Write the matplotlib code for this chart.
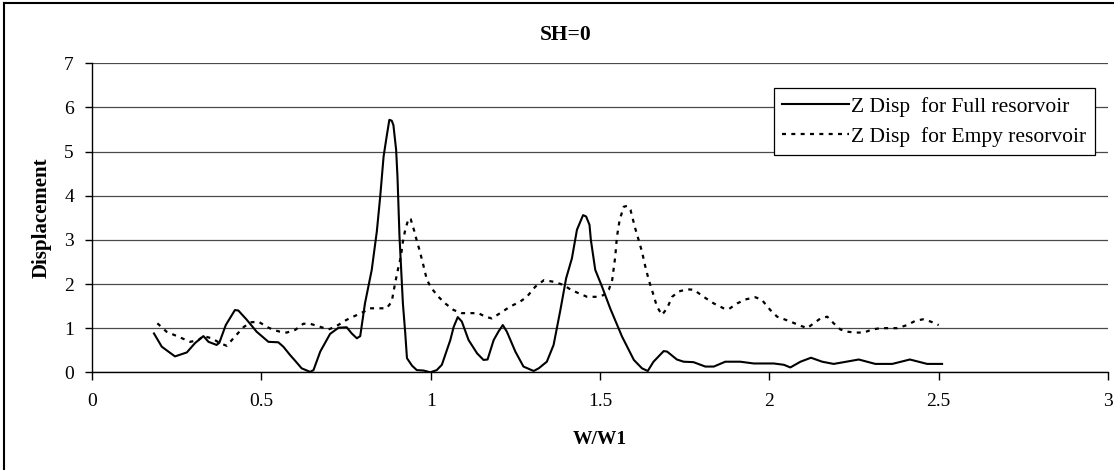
import matplotlib
matplotlib.use("Agg")
import matplotlib.pyplot as plt
from matplotlib.lines import Line2D

# Z Disp for Full resorvoir
full_x = [0.183, 0.206, 0.245, 0.28, 0.304, 0.329, 0.344, 0.368, 0.376, 0.395,
          0.422, 0.432, 0.457, 0.486, 0.521, 0.55, 0.565, 0.585, 0.6, 0.619,
          0.644, 0.654, 0.674, 0.703, 0.728, 0.752, 0.767, 0.782, 0.792, 0.806,
          0.826, 0.841, 0.851, 0.861, 0.87, 0.878, 0.885, 0.89, 0.898, 0.902,
          0.908, 0.918, 0.925, 0.93, 0.945, 0.959, 0.979, 0.999, 1.018, 1.033,
          1.058, 1.068, 1.08, 1.092, 1.112, 1.137, 1.156, 1.168, 1.186, 1.2,
          1.213, 1.225, 1.25, 1.274, 1.304, 1.319, 1.343, 1.363, 1.383, 1.4,
          1.417, 1.432, 1.45, 1.459, 1.469, 1.473, 1.486, 1.506, 1.53, 1.565,
          1.6, 1.624, 1.641, 1.658, 1.688, 1.698, 1.727, 1.747, 1.776, 1.811,
          1.836, 1.87, 1.914, 1.954, 2.013, 2.043, 2.062, 2.092, 2.123, 2.156,
          2.19, 2.22, 2.264, 2.313, 2.363, 2.415, 2.466, 2.51]
full_y = [0.88, 0.58, 0.36, 0.45, 0.66, 0.82, 0.69, 0.62, 0.67, 1.07,
          1.41, 1.40, 1.19, 0.92, 0.69, 0.68, 0.58, 0.39, 0.26, 0.09,
          0.01, 0.05, 0.47, 0.87, 1.01, 1.02, 0.88, 0.77, 0.82, 1.56,
          2.32, 3.19, 3.98, 4.89, 5.34, 5.72, 5.70, 5.60, 5.04, 4.43,
          3.07, 1.56, 0.88, 0.32, 0.15, 0.05, 0.04, 0.0, 0.05, 0.17,
          0.73, 1.03, 1.25, 1.15, 0.73, 0.43, 0.28, 0.29, 0.73, 0.92,
          1.07, 0.92, 0.47, 0.13, 0.03, 0.09, 0.24, 0.62, 1.41, 2.13,
          2.58, 3.23, 3.56, 3.53, 3.34, 3.0, 2.32, 1.94, 1.45, 0.81,
          0.28, 0.09, 0.03, 0.24, 0.48, 0.47, 0.29, 0.24, 0.23, 0.13,
          0.13, 0.24, 0.24, 0.20, 0.20, 0.17, 0.11, 0.24, 0.33, 0.24,
          0.19, 0.23, 0.29, 0.19, 0.19, 0.29, 0.19, 0.19]

# Z Disp for Empy resorvoir
empty_x = [0.193, 0.22, 0.26, 0.29, 0.314, 0.329, 0.354, 0.378, 0.398, 0.422,
           0.447, 0.467, 0.491, 0.516, 0.536, 0.555, 0.575, 0.6, 0.624, 0.644,
           0.674, 0.698, 0.718, 0.752, 0.777, 0.802, 0.821, 0.846, 0.87, 0.885,
           0.895, 0.905, 0.912, 0.918, 0.925, 0.935, 0.941, 0.952, 0.959, 0.967,
           0.977, 0.989, 1.003, 1.023, 1.043, 1.068, 1.092, 1.117, 1.141, 1.161,
           1.181, 1.205, 1.235, 1.264, 1.284, 1.309, 1.335, 1.363, 1.392, 1.412,
           1.437, 1.462, 1.491, 1.511, 1.526, 1.536, 1.545, 1.55, 1.558, 1.57,
           1.58, 1.59, 1.604, 1.614, 1.624, 1.634, 1.644, 1.658, 1.668, 1.683,
           1.698, 1.713, 1.732, 1.757, 1.777, 1.806, 1.836, 1.865, 1.88, 1.905,
           1.929, 1.959, 1.978, 2.003, 2.023, 2.062, 2.087, 2.112, 2.131, 2.151,
           2.171, 2.19, 2.21, 2.23, 2.255, 2.279, 2.304, 2.328, 2.353, 2.378,
           2.407, 2.432, 2.454, 2.476, 2.5]
empty_y = [1.11, 0.92, 0.79, 0.69, 0.73, 0.82, 0.77, 0.66, 0.60, 0.81,
           1.02, 1.13, 1.15, 1.03, 0.96, 0.92, 0.90, 0.96, 1.10, 1.10,
           1.03, 0.97, 1.03, 1.19, 1.28, 1.37, 1.45, 1.45, 1.45, 1.60,
           2.02, 2.39, 2.62, 2.96, 3.23, 3.49, 3.47, 3.19, 2.98, 2.77,
           2.47, 2.09, 1.90, 1.71, 1.56, 1.41, 1.34, 1.34, 1.34, 1.26,
           1.22, 1.34, 1.49, 1.60, 1.71, 1.94, 2.09, 2.05, 1.98, 1.88,
           1.79, 1.71, 1.71, 1.75, 1.87, 2.09, 2.62, 3.07, 3.45, 3.75,
           3.77, 3.68, 3.26, 3.0, 2.73, 2.39, 2.09, 1.75, 1.49, 1.30,
           1.45, 1.71, 1.83, 1.88, 1.87, 1.71, 1.56, 1.45, 1.43, 1.56,
           1.65, 1.70, 1.64, 1.41, 1.26, 1.15, 1.07, 1.0, 1.11, 1.22,
           1.26, 1.11, 0.97, 0.92, 0.90, 0.90, 0.97, 1.0, 1.0, 1.0,
           1.07, 1.17, 1.20, 1.15, 1.07]

x_ticks = [0, 0.5, 1, 1.5, 2, 2.5, 3]
x_tick_labels = ["0", "0.5", "1", "1.5", "2", "2.5", "3"]
y_ticks = [0, 1, 2, 3, 4, 5, 6, 7]

plt.rcParams["font.family"] = ["Liberation Serif", "DejaVu Serif"]

W, H = 1114, 470
fig = plt.figure(figsize=(W / 100, H / 100), dpi=100)
# plot area: x 92..1108 px, y 63..372 px (from top)
ax = fig.add_axes([92 / W, (H - 372.3) / H, 1016 / W, 309 / H])

ax.plot(full_x, full_y, color="black", lw=1.5, solid_joinstyle="round",
        label="Z Disp  for Full resorvoir")
ax.plot(empty_x, empty_y, color="black", lw=1.6, ls=(0, (1.8, 2.4)),
        label="Z Disp  for Empy resorvoir")

ax.set_xlim(0, 3)
ax.set_ylim(0, 7)
ax.set_xticks(x_ticks)
ax.set_xticklabels(x_tick_labels)
ax.set_yticks(y_ticks)
ax.grid(axis="y", color="#4a4a4a", lw=0.9)
ax.set_axisbelow(True)
for side in ("top", "right"):
    ax.spines[side].set_visible(False)
for side in ("left", "bottom"):
    ax.spines[side].set_linewidth(1.0)
    ax.spines[side].set_zorder(3)
ax.tick_params(direction="out", width=1.0, labelsize=14)
ax.tick_params(axis="x", length=6, pad=9)
ax.tick_params(axis="y", length=5, pad=8)

ax.set_xlabel("W/W1", fontsize=14, fontweight="bold", va="center")
ax.xaxis.set_label_coords(0.5, (372.3 - 440) / 309)
ax.set_ylabel("Displacement", fontsize=15, fontweight="bold", va="center")
ax.yaxis.set_label_coords((42 - 92) / 1016, 0.5)
fig.text(566 / W, 1 - 35 / H, "SH=0", fontsize=15.5, fontweight="bold",
         ha="center", va="center")

leg = ax.legend(loc="upper left", bbox_to_anchor=(0.671, 0.919), borderaxespad=0,
                fancybox=False, edgecolor="black", framealpha=1, fontsize=15.5,
                handlelength=3.1, handletextpad=0.1, borderpad=0.4,
                labelspacing=0.45)
leg.get_frame().set_linewidth(0.9)

# chart frame: left and top edges
fig.add_artist(Line2D([4 / W, 4 / W], [0, 1 - 3 / H], transform=fig.transFigure,
                      color="black", lw=1.5))
fig.add_artist(Line2D([4 / W, 1], [1 - 3 / H, 1 - 3 / H], transform=fig.transFigure,
                      color="black", lw=1.5))

fig.savefig("out.png", dpi=100, facecolor="white")
